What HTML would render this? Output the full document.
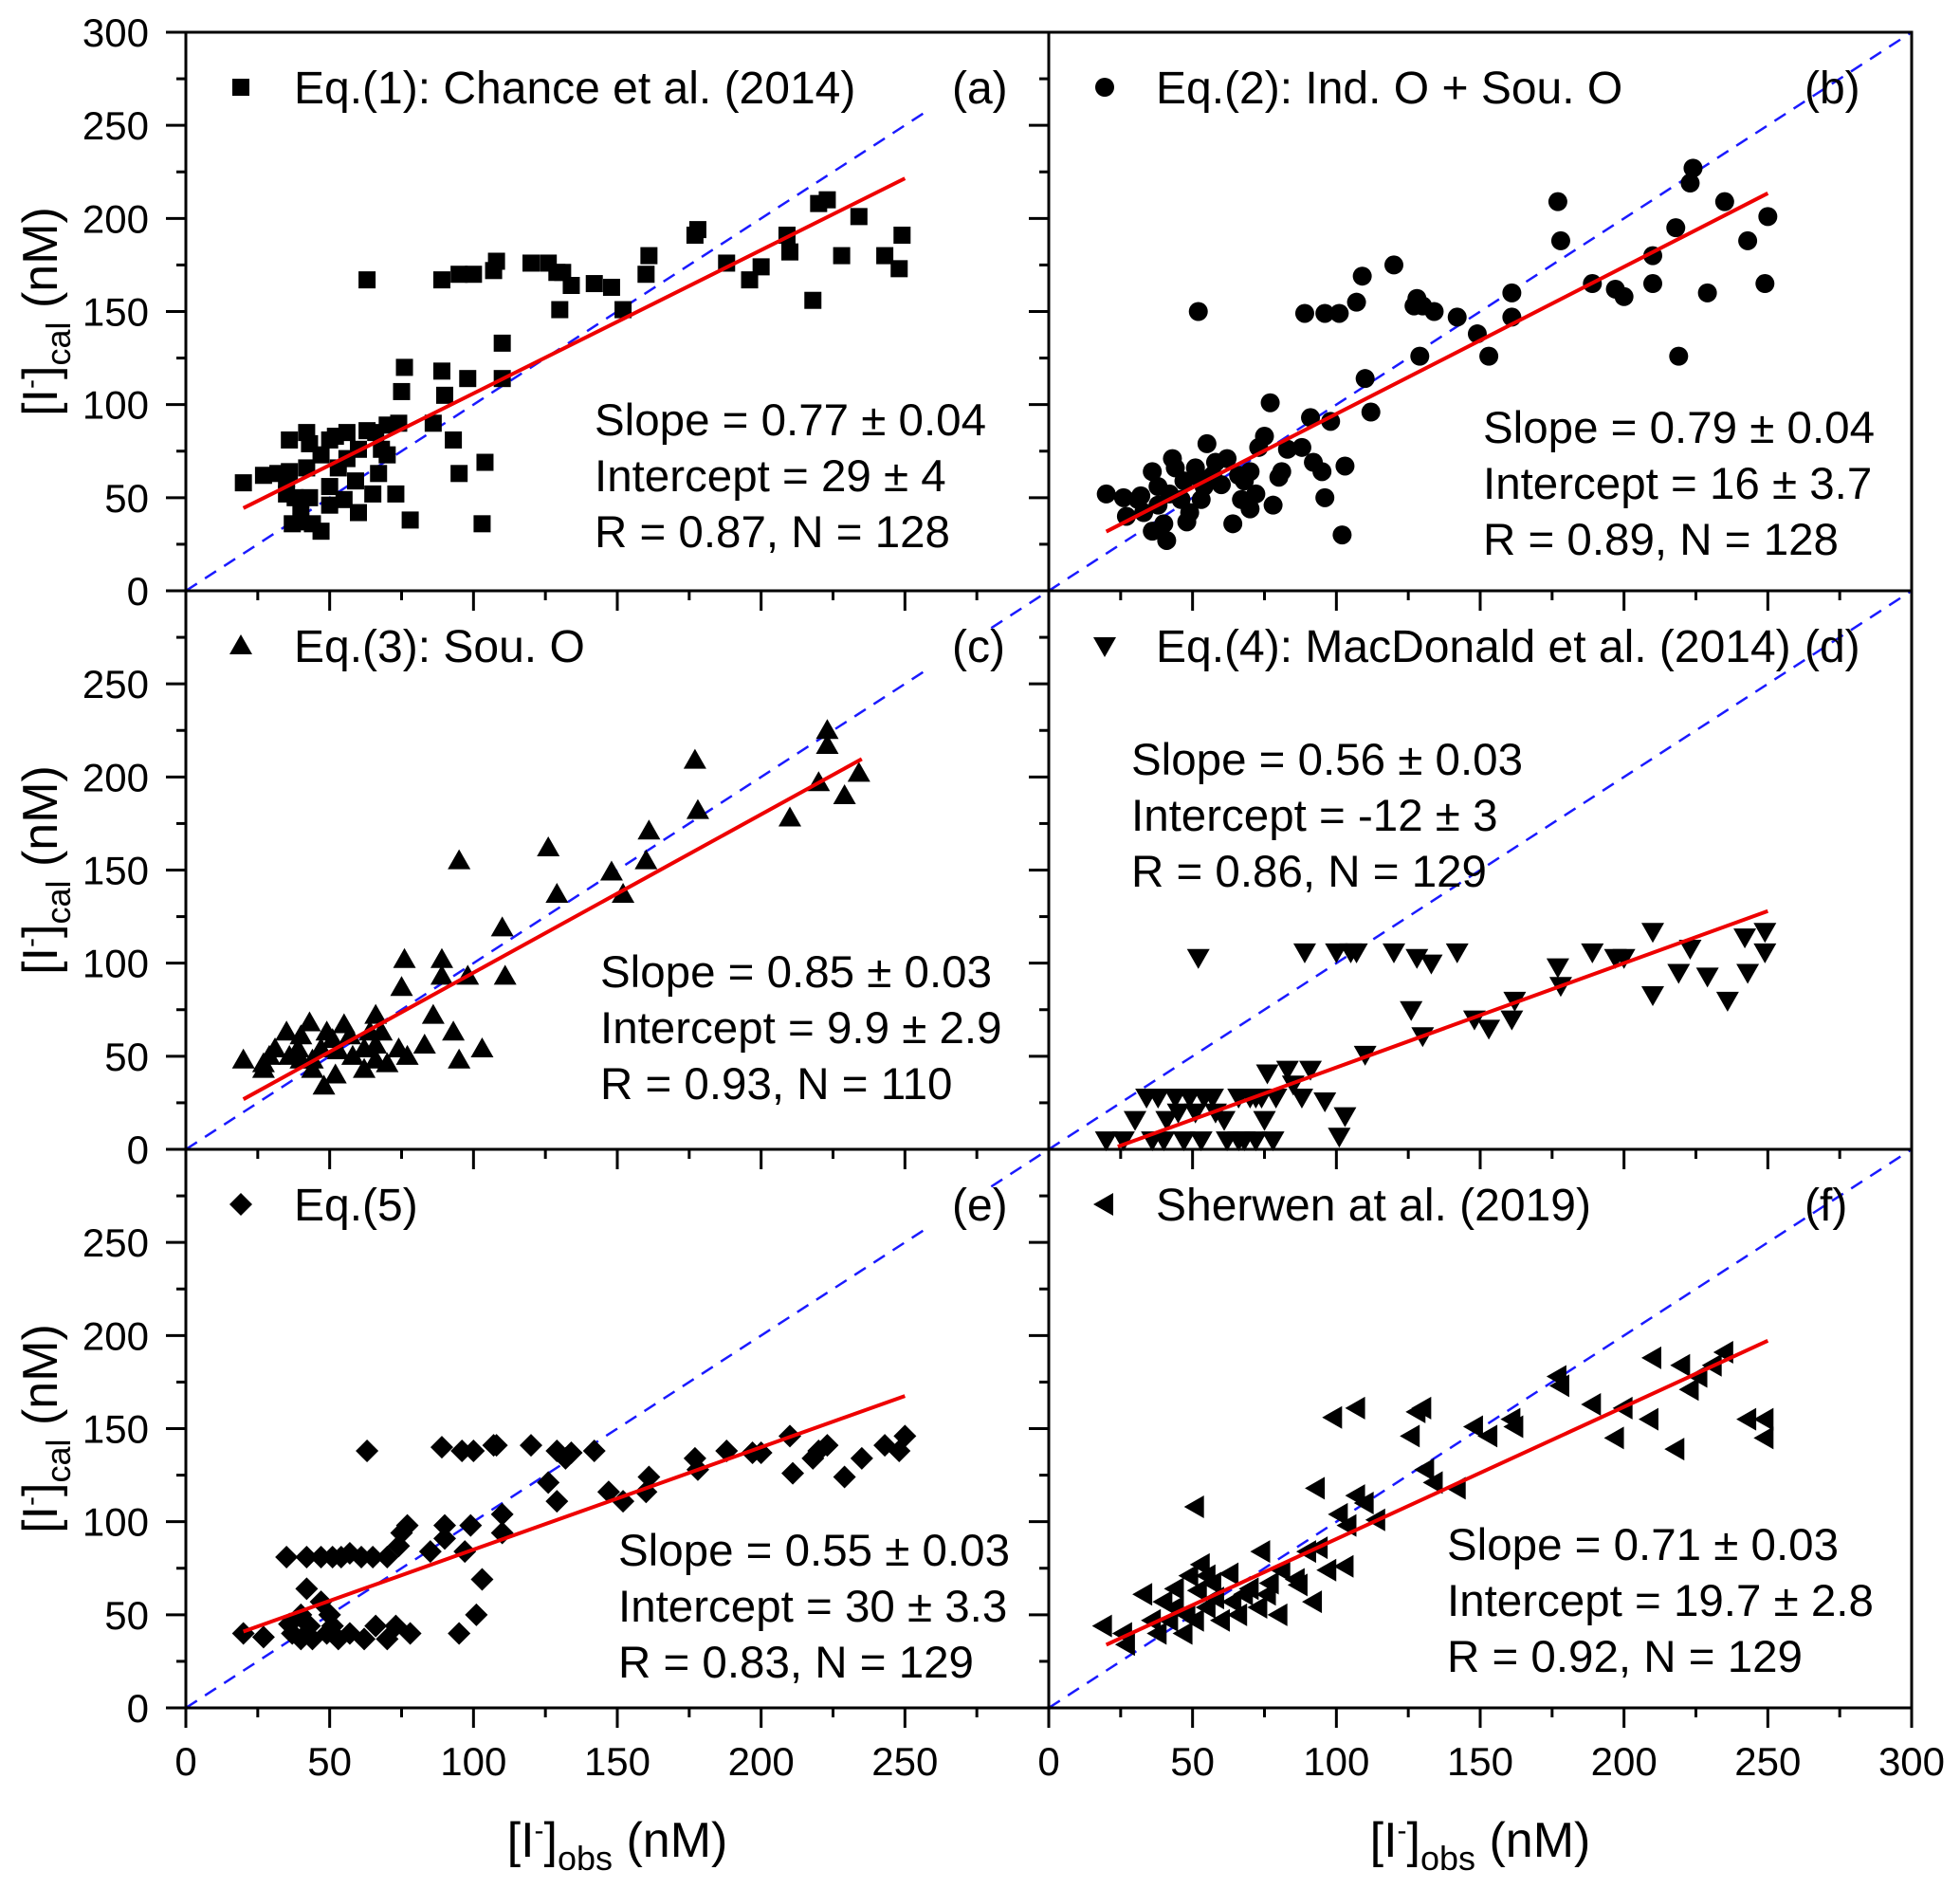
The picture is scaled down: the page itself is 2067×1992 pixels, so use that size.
<!DOCTYPE html>
<html><head><meta charset="utf-8"><style>
html,body{margin:0;padding:0;background:#fff;}
svg{display:block;font-family:"Liberation Sans",Arial,sans-serif;}
</style></head><body>
<svg id="chart" width="2067" height="1992" viewBox="0 0 2067 1992" xmlns="http://www.w3.org/2000/svg"></svg>
<script>
// ---- data ----
const aX=[20,27,35,42,43,36,50,52,56,63,66,70,74,63,75,76,78,86,89,90,93,95,98,103,104,89,95,100,107,108,110,110,120,126,129,130,131,134,142,148,152,160,161,177,178,188,196,200,209,210,218,220,223,228,234,243,248,249,36,38,40,37,40,43,44,47,50,50,53,56,59,60,65,67,70,73,68,60,47,55,42,35,32];
const aY=[58,62,60,85,79,81,81,83,85,86,85,89,90,167,107,120,38,90,118,105,81,63,114,36,69,167,170,170,172,177,133,114,176,176,171,151,171,164,165,163,151,170,180,191,194,176,167,174,191,182,156,208,210,180,201,180,173,191,64,50,46,36,37,50,36,32,46,56,66,71,59,42,52,63,73,52,76,76,73,49,66,52,63];
const bX=[20,26,27,32,36,38,41,43,46,49,52,55,52,58,62,64,67,70,73,75,77,78,80,88,91,89,92,96,95,96,98,101,102,103,107,109,110,112,120,127,128,129,130,134,142,149,153,161,161,177,178,189,197,200,210,210,218,219,223,224,229,235,243,249,250,33,38,42,47,51,54,57,60,66,70,40,36,48,53,44,31,81,83,72,68];
const bY=[52,50,40,51,64,56,27,71,49,42,61,79,150,69,71,36,49,44,77,83,101,46,61,77,93,149,69,149,64,50,91,149,30,67,155,169,114,96,175,153,157,126,153,150,147,138,126,160,147,209,188,165,162,158,180,165,195,126,219,227,160,209,188,165,201,42,46,52,59,66,56,62,57,62,64,36,32,37,49,66,49,64,76,52,59];
const cX=[20,27,27,35,39,43,44,48,51,55,58,64,66,75,76,86,89,89,93,95,95,98,103,110,111,126,129,148,152,161,160,177,178,210,220,223,223,229,234,31,36,40,47,49,53,57,62,66,68,70,74,77,44,52,62,29,40,66,83];
const cY=[48,46,43,63,54,68,48,34,59,67,50,63,72,87,102,72,102,93,63,48,155,93,54,119,93,162,137,149,137,171,155,209,182,178,197,225,217,190,202,54,50,61,54,63,53,61,54,48,63,46,54,50,43,40,43,50,48,56,56];
const dX=[20,26,34,36,41,44,47,51,52,54,57,61,66,70,72,76,78,83,88,89,91,96,100,101,103,105,107,110,120,126,128,130,133,142,148,153,161,162,177,178,189,197,200,210,210,219,223,229,236,242,249,249,243,40,53,62,66,72,75,79,49,38,30,45,58,68,74,85];
const dY=[5,5,28,5,16,28,5,20,103,28,28,16,28,28,5,41,5,43,28,106,43,26,106,7,18,106,106,51,106,75,103,61,100,106,70,65,70,80,98,88,106,103,103,117,83,95,108,93,80,114,117,106,95,5,5,5,5,28,16,28,28,28,16,20,20,5,28,35];
const eX=[20,27,35,37,42,43,47,50,51,54,57,61,63,65,70,74,75,77,78,85,89,90,90,95,96,97,99,101,103,100,107,108,110,110,120,126,129,129,132,134,142,147,152,161,160,177,178,188,197,200,210,211,218,220,223,229,235,243,248,250,36,40,44,49,53,57,62,66,70,73,47,42,51,40];
const eY=[40,38,81,40,81,44,81,50,81,81,83,81,138,81,81,87,94,98,40,84,140,98,91,40,138,84,98,50,69,138,141,141,104,94,141,121,111,138,134,137,138,116,111,124,116,134,128,138,137,137,146,126,134,138,141,124,134,141,138,146,45,37,37,40,37,40,37,44,37,44,57,64,44,50];
const fX=[19,26,27,33,36,40,44,48,51,52,55,58,63,66,70,74,76,80,86,90,93,94,97,99,101,103,104,107,107,110,114,126,128,130,131,134,142,148,153,161,162,177,178,189,197,200,209,210,218,220,223,226,231,235,243,249,249,38,42,47,51,55,60,64,68,73,77,81,44,49,53,57,87,92];
const fY=[44,40,34,61,47,57,64,50,108,63,71,59,72,50,64,84,61,50,69,84,118,86,74,156,104,76,98,114,161,110,101,146,159,161,128,121,118,151,146,155,151,178,173,163,145,161,155,188,139,184,171,178,184,191,155,145,155,40,47,40,47,54,47,57,61,54,67,74,54,71,77,67,66,57];
const slopes=[0.77,0.79,0.85,0.56,0.55,0.71];
const intercepts=[29,16,9.9,-12,30,19.7];
const fitStart=[20,20,20,24,20,20];
const fitEnd=[250,250,235,250,250,250];
const legends=["Eq.(1): Chance et al. (2014)","Eq.(2): Ind. O + Sou. O","Eq.(3): Sou. O","Eq.(4): MacDonald et al. (2014)","Eq.(5)","Sherwen at al. (2019)"];
const panelTags=["(a)","(b)","(c)","(d)","(e)","(f)"];
const statsText=[
 ["Slope = 0.77 ± 0.04","Intercept = 29 ± 4","R = 0.87, N = 128"],
 ["Slope = 0.79 ± 0.04","Intercept = 16 ± 3.7","R = 0.89, N = 128"],
 ["Slope = 0.85 ± 0.03","Intercept = 9.9 ± 2.9","R = 0.93, N = 110"],
 ["Slope = 0.56 ± 0.03","Intercept = -12 ± 3","R = 0.86, N = 129"],
 ["Slope = 0.55 ± 0.03","Intercept = 30 ± 3.3","R = 0.83, N = 129"],
 ["Slope = 0.71 ± 0.03","Intercept = 19.7 ± 2.8","R = 0.92, N = 129"]];
const yTickLabels=[0,50,100,150,200,250,300];
const xTickLabels=[0,50,100,150,200,250,300];

// ---- layout ----
const NS="http://www.w3.org/2000/svg";
const svg=document.getElementById('chart');
const L=196, PW=910, T=34, PH=589;
const statsPos=[[627,459],[1564,467],[633,1041],[1193,817],[652,1651],[1526,1645]];
const shapes=['square','circle','up','down','diamond','left'];
const Xs=[aX,bX,cX,dX,eX,fX], Ys=[aY,bY,cY,dY,eY,fY];
function el(tag,attrs,parent){const e=document.createElementNS(NS,tag);for(const k in attrs)e.setAttribute(k,attrs[k]);(parent||svg).appendChild(e);return e;}
function marker(shape,cx,cy,g){
  let e;
  if(shape==='square') e=el('rect',{x:cx-9,y:cy-9,width:18,height:18,fill:'#000'},g);
  else if(shape==='circle') e=el('circle',{cx:cx,cy:cy,r:10,fill:'#000'},g);
  else {
    let p;
    if(shape==='up') p=[[cx,cy-12],[cx+12,cy+9],[cx-12,cy+9]];
    else if(shape==='down') p=[[cx,cy+12],[cx+12,cy-9],[cx-12,cy-9]];
    else if(shape==='diamond') p=[[cx,cy-12],[cx+12,cy],[cx,cy+12],[cx-12,cy]];
    else p=[[cx-12,cy],[cx+9,cy-12],[cx+9,cy+12]];
    e=el('polygon',{points:p.map(q=>q.join(',')).join(' '),fill:'#000'},g);
  }
  return e;
}
for(let i=0;i<6;i++){
  const col=i%2,row=Math.floor(i/2);
  const x0=L+col*PW, y0=T+row*PH;
  const sx=v=>x0+v*PW/300, sy=v=>y0+PH-v*PH/300;
  const g=el('g',{});
  
  
  const d0=(col===1&&row<2)?-20:0, d1=col===1?300:258;
  const dl=el('line',{x1:sx(d0),y1:sy(d0),x2:sx(d1),y2:sy(d1),stroke:'#1a1aff','stroke-width':2.5,'stroke-dasharray':'14,10'},g);
  
  
  const pg=el('g',{},g);
  
  
  for(let j=0;j<Xs[i].length;j++){
    const m=marker(shapes[i],sx(Xs[i][j]),sy(Ys[i][j]),pg);
    
    
  }
  const xa=fitStart[i], xb=fitEnd[i];
  const fl=el('line',{x1:sx(xa),y1:sy(slopes[i]*xa+intercepts[i]),x2:sx(xb),y2:sy(slopes[i]*xb+intercepts[i]),stroke:'#ee0000','stroke-width':4},g);
  
  
  const fr=el('rect',{x:x0,y:y0,width:PW,height:PH,fill:'none',stroke:'#000','stroke-width':3},g);
  
  
  for(let v=0;v<=300;v+=25){
    const major=v%50===0, len=major?21:10;
    const ty=el('line',{x1:x0-len,y1:sy(v),x2:x0,y2:sy(v),stroke:'#000','stroke-width':3},g);
    
    
    const tx=el('line',{x1:sx(v),y1:y0+PH,x2:sx(v),y2:y0+PH+len,stroke:'#000','stroke-width':3},g);
    
    
  }
  if(col===0){
    yTickLabels.forEach(v=>{
      if(v===300&&row>0)return;
      const t=el('text',{x:157,y:sy(v)+15,'font-size':42,'text-anchor':'end',fill:'#000'});
      t.textContent=v;
      
      
    });
    const yt=el('text',{x:0,y:0,'font-size':52,'text-anchor':'middle',fill:'#000',transform:`translate(60,${y0+PH/2}) rotate(-90)`});
    yt.innerHTML='[I<tspan dy="-18" font-size="30">-</tspan><tspan dy="18">]</tspan><tspan dy="14" font-size="36">cal</tspan><tspan dy="-14"> (nM)</tspan>';
    
    
  }
  if(row===2){
    xTickLabels.forEach(v=>{
      if(v===300&&col===0)return;
      const t=el('text',{x:sx(v),y:1872,'font-size':42,'text-anchor':'middle',fill:'#000'});
      t.textContent=v;
      
      
    });
    const xt=el('text',{x:x0+PW/2,y:1958,'font-size':52,'text-anchor':'middle',fill:'#000'});
    xt.innerHTML='[I<tspan dy="-18" font-size="30">-</tspan><tspan dy="18">]</tspan><tspan dy="14" font-size="36">obs</tspan><tspan dy="-14"> (nM)</tspan>';
    
    
  }
  const lx=col===0?254:1165, ly=y0+58;
  const lm=marker(shapes[i],lx,ly,g);
  
  
  const lt=el('text',{x:col===0?310:1219,y:ly+17,'font-size':48,fill:'#000'},g);
  lt.textContent=legends[i];
  
  
  const tg=el('text',{x:col===0?1004:1903,y:ly+17,'font-size':48,fill:'#000'},g);
  tg.textContent=panelTags[i];
  
  
  statsText[i].forEach((s,k)=>{
    const t=el('text',{x:statsPos[i][0],y:statsPos[i][1]+k*59,'font-size':47.5,fill:'#000'},g);
    t.textContent=s;
    
    
  });
}
</script>
</body></html>
